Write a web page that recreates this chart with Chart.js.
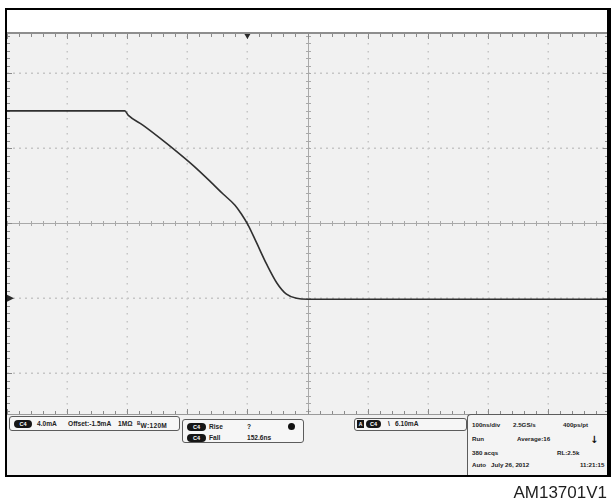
<!DOCTYPE html>
<html>
<head>
<meta charset="utf-8">
<script src="https://cdn.jsdelivr.net/npm/chart.js@4"></script>
<style>
  html, body { margin: 0; padding: 0; background: #fff; }
  #wrap { position: relative; width: 615px; height: 501px; overflow: hidden;
          font-family: "Liberation Sans", Arial, sans-serif; }
  #scope { position: absolute; left: 0; top: 0; }
  .frame { position: absolute; left: 5px; top: 8px; width: 606px; height: 469px;
           box-sizing: border-box; border: 2px solid #000; border-right-width: 4px; pointer-events: none; }
  .topline { position: absolute; left: 7px; top: 32px; width: 601px; height: 2px; background: #8e8e8e; }
  .panel { position: absolute; left: 7px; top: 414px; width: 601px; height: 61px;
           background: #f1f1f1; border-top: 1px solid #9a9a9a; box-sizing: border-box; }
  .box { position: absolute; box-sizing: border-box; border: 1px solid #5c5c5c; border-radius: 3px; background: #f6f6f6; }
  .t { position: absolute; font-size: 6.6px; font-weight: bold; color: #222; white-space: nowrap; line-height: 8px; }
  .r { font-size: 6.2px; }
  .pill { position: absolute; background: #161616; color: #fff; border-radius: 4px; font-size: 5.5px;
          font-weight: bold; text-align: center; line-height: 8px; height: 8px; }
  .caption { position: absolute; right: 8px; top: 484px; font-size: 17px; color: #1e1e1e; line-height: 17px; }
</style>
</head>
<body>
<div id="wrap">
  <canvas id="scope" width="615" height="501"></canvas>
  <div class="topline"></div>
  <div class="panel"></div>

  <!-- channel setup -->
  <div class="box" style="left:9px;top:416px;width:171px;height:15px;"></div>
  <div class="pill" style="left:14px;top:419.5px;width:18px;">C4</div>
  <div class="t" style="left:37px;top:419.5px;">4.0mA</div>
  <div class="t" style="left:68px;top:419.5px;">Offset:-1.5mA</div>
  <div class="t" style="left:118px;top:419.5px;">1MΩ</div>
  <div class="t" style="left:137px;top:419.5px;letter-spacing:0.3px;"><sup style="font-size:4.5px">B</sup>W:120M</div>

  <!-- measurements -->
  <div class="box" style="left:182px;top:419px;width:122px;height:24px;"></div>
  <div class="pill" style="left:187px;top:422.7px;width:19px;">C4</div>
  <div class="t" style="left:209px;top:422.7px;">Rise</div>
  <div class="t" style="left:247px;top:422.7px;">?</div>
  <div style="position:absolute;left:288px;top:423px;width:7px;height:7px;border-radius:50%;background:#111;"></div>
  <div class="pill" style="left:187px;top:434.3px;width:19px;">C4</div>
  <div class="t" style="left:209px;top:434.3px;">Fall</div>
  <div class="t" style="left:247px;top:434.3px;">152.6ns</div>

  <!-- trigger -->
  <div class="box" style="left:354px;top:418px;width:113px;height:13px;"></div>
  <div style="position:absolute;left:357px;top:420px;width:7px;height:8px;background:#161616;color:#fff;font-size:5px;font-weight:bold;line-height:8px;text-align:center;">A</div>
  <div class="pill" style="left:366px;top:420px;width:15px;">C4</div>
  <div class="t" style="left:388px;top:420px;">\</div>
  <div class="t" style="left:395px;top:420px;">6.10mA</div>

  <!-- acquisition -->
  <div class="box" style="left:467px;top:414px;width:142px;height:62px;border-radius:4px 0 0 0;border-right:none;border-bottom:none;background:#f4f4f4;"></div>
  <div class="t r" style="left:472px;top:421px;">100ns/div</div>
  <div class="t r" style="left:513px;top:421px;">2.5GS/s</div>
  <div class="t r" style="left:563px;top:421px;">400ps/pt</div>
  <div class="t r" style="left:472px;top:435px;">Run</div>
  <div class="t r" style="left:517px;top:435px;">Average:16</div>
  <div class="t" style="left:590px;top:434px;font-family:'DejaVu Sans',sans-serif;font-size:10px;line-height:12px;color:#111;">↓</div>
  <div class="t r" style="left:472px;top:448.7px;">380 acqs</div>
  <div class="t r" style="left:557px;top:448.7px;">RL:2.5k</div>
  <div class="t r" style="left:472px;top:461px;">Auto</div>
  <div class="t r" style="left:491px;top:461px;">July 26, 2012</div>
  <div class="t r" style="left:580px;top:461px;">11:21:15</div>

  <div class="frame"></div>
  <div class="caption">AM13701V1</div>
</div>

<script>
// Channel 4 current during turn-off, averaged acquisition
const timeNs = [-500, -304, -298, -274, -246, -218, -190, -162, -140, -121, -110, -99, -85, -68, -51, -35, -18, 0, 500];
const currentMA = [10.0, 10.0, 9.76, 9.24, 8.56, 7.84, 7.08, 6.24, 5.55, 4.98, 4.50, 3.92, 2.98, 1.82, 0.82, 0.22, 0.0, -0.05, -0.05];

// Graticule: 100 ns per division horizontally, 4 mA per division vertically
const timePerDiv = 100;
const currentPerDiv = 4;
const timeMin = -500, timeMax = 500;
const currentMin = -6.17, currentMax = 14.1;
const groundLevel = 0;
const triggerTime = -100;
const centreCurrent = 4;

const graticule = {
  id: 'graticule',
  beforeDatasetsDraw(chart) {
    const { ctx, chartArea: a, scales: { x, y } } = chart;
    ctx.save();
    ctx.fillStyle = '#f1f1f1';
    ctx.fillRect(a.left, a.top, a.right - a.left, a.bottom - a.top);

    const xMinor = timePerDiv / 5;
    const yMinor = currentPerDiv / 10;
    const yStart = Math.ceil(currentMin / yMinor);
    const yEnd = Math.floor(currentMax / yMinor);

    // dotted division lines
    ctx.fillStyle = '#c6c6c6';
    for (let t = timeMin + timePerDiv; t < timeMax; t += timePerDiv) {
      if (t === 0) continue;
      const px = Math.round(x.getPixelForValue(t));
      for (let k = yStart; k <= yEnd; k++) {
        const py = Math.round(y.getPixelForValue(k * yMinor));
        ctx.fillRect(px - 0.5, py, 1.5, 1.5);
      }
    }
    for (let k = -1; k <= 3; k++) {
      const v = k * currentPerDiv;
      if (v === centreCurrent) continue;
      const py = Math.round(y.getPixelForValue(v));
      for (let j = 0; j <= (timeMax - timeMin) / (xMinor / 2); j++) {
        const px = Math.round(x.getPixelForValue(timeMin + j * xMinor / 2));
        ctx.fillRect(px, py - 0.5, 2, 1.5);
      }
    }

    // centre crosshair with minor ticks
    const cx = Math.round(x.getPixelForValue(0)) + 0.5;
    const cy = Math.round(y.getPixelForValue(centreCurrent)) + 0.5;
    ctx.strokeStyle = '#a9a9a9';
    ctx.lineWidth = 1;
    ctx.beginPath();
    ctx.moveTo(a.left, cy); ctx.lineTo(a.right, cy);
    ctx.moveTo(cx, a.top); ctx.lineTo(cx, a.bottom);
    for (let j = 0; j <= (timeMax - timeMin) / xMinor; j++) {
      const px = Math.round(x.getPixelForValue(timeMin + j * xMinor)) + 0.5;
      ctx.moveTo(px, cy - 2.5); ctx.lineTo(px, cy + 2.5);
    }
    for (let k = yStart; k <= yEnd; k++) {
      const py = Math.round(y.getPixelForValue(k * yMinor)) + 0.5;
      ctx.moveTo(cx - 2.5, py); ctx.lineTo(cx + 2.5, py);
    }
    ctx.stroke();

    // edge ticks
    ctx.strokeStyle = '#8a8a8a';
    ctx.beginPath();
    for (let j = 0; j <= (timeMax - timeMin) / xMinor; j++) {
      const t = timeMin + j * xMinor;
      const len = (t % timePerDiv === 0) ? 5 : 3;
      const px = Math.round(x.getPixelForValue(t)) + 0.5;
      ctx.moveTo(px, a.top); ctx.lineTo(px, a.top + len);
      ctx.moveTo(px, a.bottom); ctx.lineTo(px, a.bottom - len);
    }
    for (let k = yStart; k <= yEnd; k++) {
      const v = k * yMinor;
      const len = (k % 10 === 0) ? 5 : 3;
      const py = Math.round(y.getPixelForValue(v)) + 0.5;
      ctx.moveTo(a.left, py); ctx.lineTo(a.left + len, py);
      ctx.moveTo(a.right, py); ctx.lineTo(a.right - len, py);
    }
    ctx.stroke();
    ctx.restore();
  },
  afterDatasetsDraw(chart) {
    const { ctx, chartArea: a, scales: { x, y } } = chart;
    ctx.save();
    ctx.fillStyle = '#2a2a2a';
    // trigger position marker
    const tx = x.getPixelForValue(triggerTime);
    ctx.beginPath();
    ctx.moveTo(tx - 3, a.top); ctx.lineTo(tx + 3, a.top); ctx.lineTo(tx, a.top + 5);
    ctx.closePath(); ctx.fill();
    // channel ground marker
    const gy = y.getPixelForValue(groundLevel);
    ctx.beginPath();
    ctx.moveTo(a.left, gy - 3.5); ctx.lineTo(a.left + 7, gy); ctx.lineTo(a.left, gy + 3.5);
    ctx.closePath(); ctx.fill();
    ctx.restore();
  }
};

new Chart(document.getElementById('scope'), {
  type: 'line',
  data: {
    datasets: [{
      data: timeNs.map((t, i) => ({ x: t, y: currentMA[i] })),
      borderColor: '#303030',
      borderWidth: 1.6,
      pointRadius: 0,
      cubicInterpolationMode: 'monotone',
      fill: false
    }]
  },
  options: {
    responsive: false,
    animation: false,
    events: [],
    layout: { padding: { left: 7, right: 7, top: 34, bottom: 87 } },
    scales: {
      x: { type: 'linear', min: timeMin, max: timeMax, display: false },
      y: { type: 'linear', min: currentMin, max: currentMax, display: false }
    },
    plugins: { legend: { display: false }, tooltip: { enabled: false } }
  },
  plugins: [graticule]
});
</script>
</body>
</html>
